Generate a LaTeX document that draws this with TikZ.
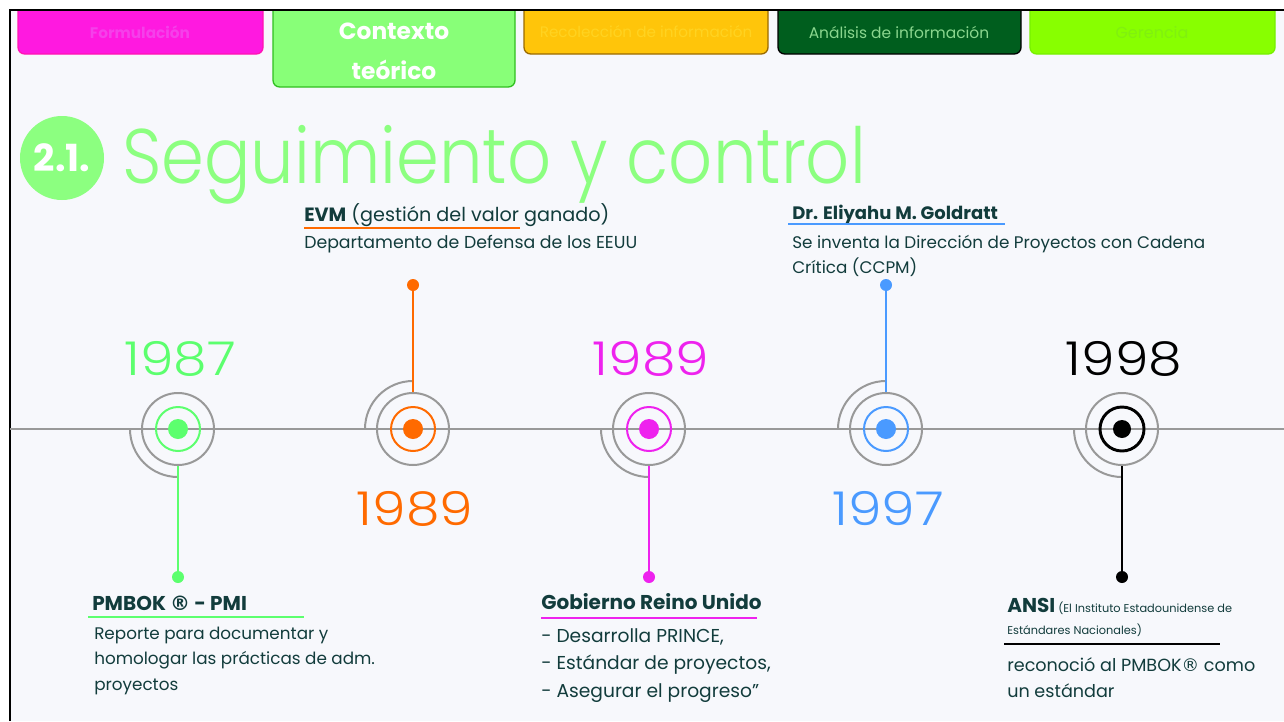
\documentclass[tikz,border=0pt]{standalone}
\usepackage{fontspec}
\setmainfont{Poppins}
\newfontfamily\lightfont{Poppins Light}
\newfontfamily\titlefont{Poppins Light}[FakeStretch=0.89]
\newfontfamily\yearfont{Poppins Light}[FakeStretch=1.15]
\newfontfamily\regfont{DejaVu Sans}
\newcommand{\regmark}{{\regfont ®}}
\definecolor{bg}{HTML}{F7F8FC}
\definecolor{ttl}{HTML}{8CFF80}
\definecolor{cgreen}{HTML}{5CFF6E}
\definecolor{corange}{HTML}{FF6A00}
\definecolor{cmag}{HTML}{EE22EE}
\definecolor{cblue}{HTML}{4A9AFF}
\definecolor{tgray}{HTML}{999999}
\definecolor{txt}{HTML}{123C3C}
\definecolor{tabmag}{HTML}{FF19E0}
\definecolor{tabmagt}{HTML}{F540EA}
\definecolor{tabgrn}{HTML}{88FF78}
\definecolor{tabgrnb}{HTML}{30C020}
\definecolor{tabyel}{HTML}{FFC50A}
\definecolor{tabyelb}{HTML}{9A6A00}
\definecolor{tabyelt}{HTML}{FFD321}
\definecolor{tabdk}{HTML}{005E1E}
\definecolor{tabdkt}{HTML}{8AD68E}
\definecolor{tablime}{HTML}{88FF00}
\definecolor{tablimeb}{HTML}{77F000}
\definecolor{tablimet}{HTML}{80F010}
\begin{document}
\begin{tikzpicture}[x=0.75pt,y=-0.75pt,
  tabbox/.style={line width=1pt, rounded corners=5pt},
  tabtext/.style={inner sep=0, anchor=center},
  outer/.style={circle, draw=tgray, line width=1.5pt, minimum size=54pt, inner sep=0},
  ring/.style={circle, line width=1.5pt, minimum size=33pt, inner sep=0},
  dot/.style={circle, minimum size=15pt, inner sep=0},
  enddot/.style={circle, minimum size=9pt, inner sep=0},
  stem/.style={line width=1.5pt},
  qarc/.style={draw=tgray, line width=1.5pt},
  year/.style={anchor=base, inner sep=0, font=\yearfont\fontsize{35}{40}\selectfont},
  head/.style={anchor=base west, inner sep=0, text=txt},
  body/.style={anchor=base west, inner sep=0, text=txt, align=left},
  uline/.style={line width=2pt}
]
\useasboundingbox (0,0) rectangle (1284,721);
\fill[white] (0,0) rectangle (1284,721);
\fill[bg] (11,11) rectangle (1284,721);

% tabs
\draw[tabbox, fill=tabmag, draw=tabmag!80!red] (18,-10) rectangle (263,54);
\draw[tabbox, fill=tabgrn, draw=tabgrnb] (273,-10) rectangle (515,87);
\draw[tabbox, fill=tabyel, draw=tabyelb] (524,-10) rectangle (768,54);
\draw[tabbox, fill=tabdk, draw=black] (778,-10) rectangle (1021,54);
\draw[tabbox, fill=tablime, draw=tablimeb] (1030,-10) rectangle (1275,54);
\fill[white] (0,0) rectangle (1284,9);
\draw[black, line width=1.8pt] (10,721) -- (10,10) -- (1284,10);

\node[tabtext, text=tabmagt, font=\bfseries\fontsize{11.5}{14}\selectfont] (tab1) at (140,32) {Formulación};
\node[tabtext, text=white, font=\bfseries\fontsize{17.5}{20}\selectfont] (tab2a) at (394,31) {Contexto};
\node[tabtext, text=white, font=\bfseries\fontsize{17.5}{20}\selectfont] (tab2b) at (394,70) {teórico};
\node[tabtext, text=tabyelt, font=\fontsize{11.4}{14}\selectfont] (tab3) at (646,32) {Recolección de información};
\node[tabtext, text=tabdkt, font=\fontsize{11.6}{14}\selectfont] (tab4) at (899,32) {Análisis de información};
\node[tabtext, text=tablimet, font=\fontsize{12}{14}\selectfont] (tab5) at (1152,32) {Gerencia};

% title
\node[circle, fill=ttl, minimum size=63pt, inner sep=0, text=white, font=\bfseries\fontsize{28}{30}\selectfont] (num) at (62,158) {2.1.};
\node[anchor=base west, inner sep=0, text=ttl, font=\titlefont\fontsize{58}{60}\selectfont] (title) at (122,183) {Seguimiento y control};

% timeline
\draw[tgray, line width=1.5pt] (10,429) -- (1284,429);

% event 1 : 1987 (down)
\draw[qarc] (130,429) arc[start angle=180, end angle=90, radius=48];
\node[outer] (o1) at (178,429) {};
\node[ring, draw=cgreen] (r1) at (178,429) {};
\node[dot, fill=cgreen] (d1) at (178,429) {};
\node[enddot, fill=cgreen] (p1) at (178,577) {};
\draw[stem, cgreen] (o1.south) -- (p1);
\node[year, text=cgreen] (y1) at (180,375) {1987};

% event 2 : 1989 EVM (up)
\draw[qarc] (365,429) arc[start angle=180, end angle=270, radius=48];
\node[outer] (o2) at (413,429) {};
\node[ring, draw=corange] (r2) at (413,429) {};
\node[dot, fill=corange] (d2) at (413,429) {};
\node[enddot, fill=corange] (p2) at (413,285) {};
\draw[stem, corange] (o2.north) -- (p2);
\node[year, text=corange] (y2) at (415,525) {1989};

% event 3 : 1989 (down)
\draw[qarc] (601,429) arc[start angle=180, end angle=90, radius=48];
\node[outer] (o3) at (649,429) {};
\node[ring, draw=cmag] (r3) at (649,429) {};
\node[dot, fill=cmag] (d3) at (649,429) {};
\node[enddot, fill=cmag] (p3) at (649,577) {};
\draw[stem, cmag] (o3.south) -- (p3);
\node[year, text=cmag] (y3) at (651,375) {1989};

% event 4 : 1997 (up)
\draw[qarc] (838,429) arc[start angle=180, end angle=270, radius=48];
\node[outer] (o4) at (886,429) {};
\node[ring, draw=cblue] (r4) at (886,429) {};
\node[dot, fill=cblue] (d4) at (886,429) {};
\node[enddot, fill=cblue] (p4) at (886,285) {};
\draw[stem, cblue] (o4.north) -- (p4);
\node[year, text=cblue] (y4) at (888,525) {1997};

% event 5 : 1998 (down)
\draw[qarc] (1074,429) arc[start angle=180, end angle=90, radius=48];
\node[outer] (o5) at (1122,429) {};
\node[ring, draw=black, line width=2.2pt] (r5) at (1122,429) {};
\node[dot, fill=black, minimum size=13.5pt] (d5) at (1122,429) {};
\node[enddot, fill=black] (p5) at (1122,577) {};
\draw[stem, black, line width=2.2pt] (o5.south) -- (p5);
\node[year, text=black] (y5) at (1124,375) {1998};

% texts: EVM
\node[head, font=\fontsize{14.4}{18}\selectfont] (h2) at (304,221) {\textbf{EVM} (gestión del valor ganado)};
\draw[uline, corange] (304,228) -- (520,228);
\node[body, font=\fontsize{13}{19}\selectfont] (b2) at (304,248) {Departamento de Defensa de los EEUU};

% Goldratt
\node[head, font=\bfseries\fontsize{13.5}{18}\selectfont] (h4) at (792,219) {Dr. Eliyahu M. Goldratt};
\draw[uline, cblue] (788,224) -- (1005,224);
\node[body, font=\fontsize{12.6}{18.75}\selectfont] (b4) at (792,273) {Se inventa la Dirección de Proyectos con Cadena\\Crítica (CCPM)};

% PMBOK
\node[head, font=\bfseries\fontsize{15}{18}\selectfont] (h1) at (92,610) {PMBOK \regmark{} - PMI};
\draw[uline, cgreen] (88,617) -- (304,617);
\node[body, font=\fontsize{12.6}{19.1}\selectfont] (b1) at (94,690) {Reporte para documentar y\\homologar las prácticas de adm.\\proyectos};

% Gobierno
\node[head, font=\bfseries\fontsize{15}{18}\selectfont] (h3) at (541,609) {Gobierno Reino Unido};
\draw[uline, cmag] (541,618) -- (757,618);
\node[body, font=\fontsize{14}{20.6}\selectfont] (b3) at (541,697) {- Desarrolla PRINCE,\\- Estándar de proyectos,\\- Asegurar el progreso”};

% ANSI
\node[body, font=\fontsize{8.5}{16.5}\selectfont] (h5) at (1007,634) {{\bfseries\fontsize{15}{16}\selectfont ANSI} (El Instituto Estadounidense de\\Estándares Nacionales)};
\draw[uline, black] (1004,644) -- (1220,644);
\node[body, font=\fontsize{13.2}{19.5}\selectfont] (b5) at (1007,697) {reconoció al PMBOK\regmark{} como\\un estándar};
\end{tikzpicture}
\end{document}
